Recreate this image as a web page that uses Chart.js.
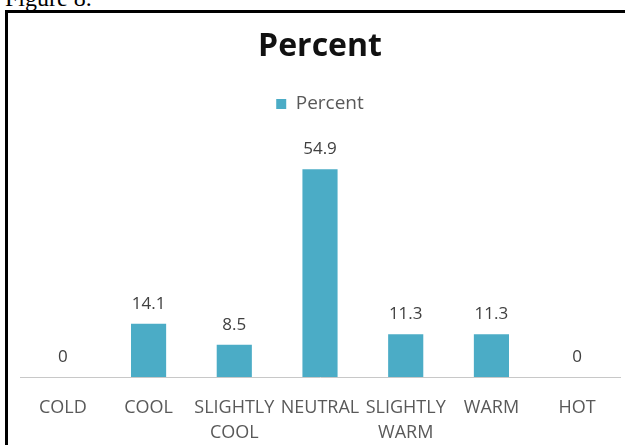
<!DOCTYPE html>
<html>
<head>
<meta charset="utf-8">
<script src="https://cdn.jsdelivr.net/npm/chart.js@4.4.1/dist/chart.umd.min.js"></script>
<style>
  html, body { margin: 0; padding: 0; background: #fff; overflow: hidden; }
  #page { position: relative; width: 625px; height: 445px; }
  #caption {
    position: absolute; left: 5px; top: -14px;
    font: 24px "Liberation Serif", serif; line-height: 25px; color: #000;
  }
  #frame {
    position: absolute; left: 5px; top: 10px; width: 700px; height: 500px;
    border-left: 3px solid #000; border-top: 3px solid #000;
  }
  #wrap { position: absolute; left: 0; top: 0; width: 625px; height: 445px; }
</style>
</head>
<body>
<div id="page">
  <div id="caption">Figure 8.</div>
  <div id="frame"></div>
  <div id="wrap"><canvas id="chart"></canvas></div>
</div>
<script>
// Chart data
const categories = ['COLD', 'COOL', ['SLIGHTLY', 'COOL'], 'NEUTRAL', ['SLIGHTLY', 'WARM'], 'WARM', 'HOT'];
const percentValues = [0, 14.1, 8.5, 54.9, 11.3, 11.3, 0];
const seriesName = 'Percent';

const barColor = '#4BACC6';
const fontFamily = '"Open Sans", "Noto Sans", sans-serif';

// Value labels drawn above each bar
const valueLabels = {
  id: 'valueLabels',
  afterDatasetsDraw(chart) {
    const ctx = chart.ctx;
    const meta = chart.getDatasetMeta(0);
    ctx.save();
    ctx.font = '17px ' + fontFamily;
    ctx.fillStyle = '#404040';
    ctx.textAlign = 'center';
    ctx.textBaseline = 'alphabetic';
    meta.data.forEach((bar, i) => {
      ctx.fillText(String(percentValues[i]), bar.x, bar.y - 15);
    });
    ctx.restore();
  }
};

window.addEventListener('DOMContentLoaded', () => {
  new Chart(document.getElementById('chart'), {
    type: 'bar',
    data: {
      labels: categories,
      datasets: [{
        label: seriesName,
        data: percentValues,
        backgroundColor: barColor,
        borderWidth: 0,
        barPercentage: 0.41,
        categoryPercentage: 1
      }]
    },
    options: {
      responsive: true,
      maintainAspectRatio: false,
      animation: false,
      layout: { padding: { left: 20, right: 5, top: 0, bottom: 0 } },
      scales: {
        x: {
          grid: { display: false, drawTicks: false },
          border: { display: true, color: '#c8c8c8', width: 1 },
          ticks: {
            color: '#595959',
            font: { family: fontFamily, size: 18, lineHeight: 1.4 },
            padding: 18,
            maxRotation: 0,
            minRotation: 0,
            autoSkip: false
          },
          afterFit: scale => { scale.height = 68; }
        },
        y: {
          display: false,
          min: 0,
          max: 60
        }
      },
      plugins: {
        title: {
          display: true,
          text: 'Percent',
          color: '#111',
          font: { family: fontFamily, size: 32, weight: 'bold', lineHeight: 1.2 },
          padding: { top: 28, bottom: 18 }
        },
        // empty subtitle used as a spacer between legend and plot
        subtitle: {
          display: true,
          text: ' ',
          weight: 500,
          font: { size: 1, lineHeight: 1 },
          padding: { top: 25.5, bottom: 0 }
        },
        legend: {
          display: true,
          labels: {
            color: '#595959',
            font: { family: fontFamily, size: 19 },
            boxWidth: 10,
            boxHeight: 10,
            padding: 10
          }
        },
        tooltip: { enabled: false }
      }
    },
    plugins: [valueLabels]
  });
});
</script>
</body>
</html>
